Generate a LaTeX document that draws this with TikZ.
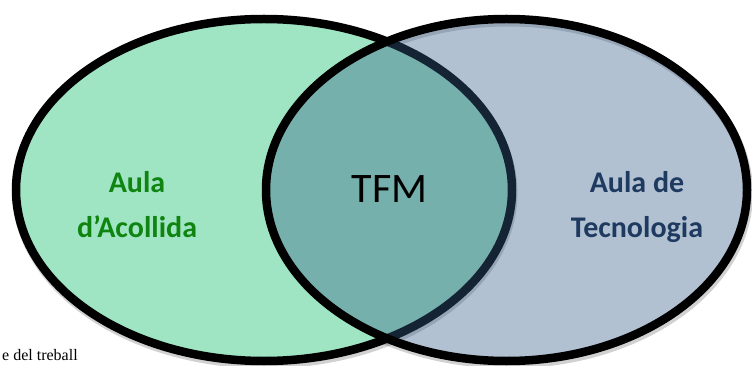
\documentclass[tikz,border=0pt]{standalone}
\usepackage{fontspec}
\setmainfont{Carlito}
\newfontfamily\pie{Liberation Serif}
\definecolor{G}{RGB}{159, 229, 196}
\definecolor{B}{RGB}{54, 95, 136}
\definecolor{VT}{RGB}{16, 132, 16}
\definecolor{AT}{RGB}{31, 58, 96}

\begin{document}
\begin{tikzpicture}[x=1pt, y=-1pt,
	contorno/.style={line width=8.5pt, black},
	sombra/.style={line width=9pt, black, opacity=0.18},
	etiqueta/.style={align=center, font=\bfseries\fontsize{30}{45}\selectfont}]
	\useasboundingbox (0,0) rectangle (752,366);

	%Sombra de los dos conjuntos
	\draw[sombra] (265,193) ellipse (248pt and 171pt);
	\draw[sombra] (508,193) ellipse (240.5pt and 171pt);

	%Conjunto A (Aula d'Acollida) se pinta de verde
	\fill[color=G] (264,190) ellipse (248pt and 171pt);
	\draw[contorno] (264,190) ellipse (248pt and 171pt);

	%Conjunto B (Aula de Tecnologia) encima, semitransparente
	\fill[color=B, fill opacity=0.39] (506.5,190) ellipse (240.5pt and 171pt);
	\draw[contorno] (506.5,190) ellipse (240.5pt and 171pt);

	%Textos
	\node[etiqueta, text=VT] (acollida) at (137,205) {Aula\\d'Acollida};
	\node[etiqueta, text=AT] (tecnologia) at (637,207) {Aula de\\Tecnologia};
	\node[font=\fontsize{42}{42}\selectfont] (tfm) at (389.5,189.5) {TFM};

	%Pie de figura
	\node[anchor=base west, inner sep=0pt, font=\pie\fontsize{16}{16}\selectfont] (pie) at (2,360) {e del treball};
\end{tikzpicture}
\end{document}
